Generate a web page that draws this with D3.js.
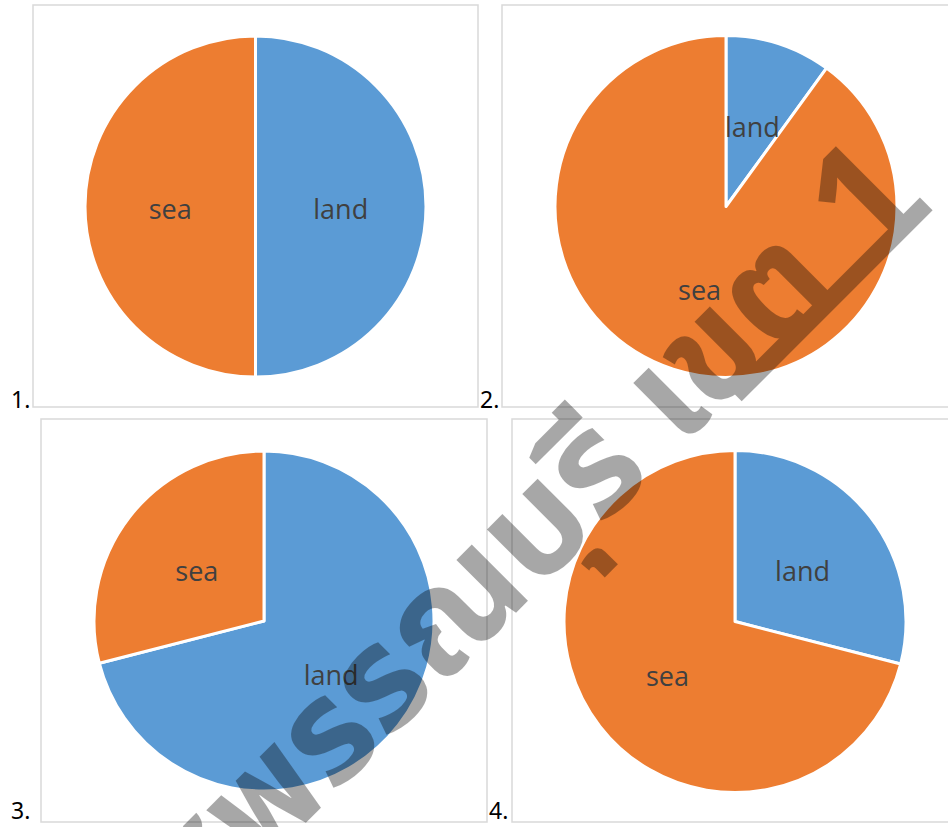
<!DOCTYPE html>
<html>
<head>
<meta charset="utf-8">
<script src="https://cdn.jsdelivr.net/npm/d3@7"></script>
<style>
  html, body { margin: 0; padding: 0; background: #fff; }
  svg { display: block; }
</style>
</head>
<body>
<script>
// --- data ---
const categories = ["land", "sea"];
const panelLabels = ["1.", "2.", "3.", "4."];
const landValues = [50, 10, 71, 29];
const seaValues = [50, 90, 29, 71];
const colors = ["#5B9BD5", "#ED7D31"];
const watermarkText = "สุพรรณบุรี เขต 1";

const width = 948, height = 827;

// panel frames (box) and pie placement
const panels = [
    { box: [33, 5, 445, 402], cx: 255.5, cy: 206.5, r: 170.5, label: [11, 408] },
    { box: [502, 5, 470, 402], cx: 726, cy: 206.5, r: 171, label: [480, 408] },
    { box: [41, 419, 446, 403], cx: 264, cy: 621, r: 170, label: [11, 819] },
    { box: [512, 419, 460, 403], cx: 735, cy: 621.5, r: 171, label: [489, 819] }
];

const svg = d3.select("body").append("svg")
    .attr("width", width)
    .attr("height", height);

const pie = d3.pie().sort(null).value(d => d.value);

panels.forEach((p, i) => {
    const data = categories.map((c, j) => ({
        name: c,
        value: j === 0 ? landValues[i] : seaValues[i],
        color: colors[j]
    }));

    svg.append("rect")
        .attr("x", p.box[0])
        .attr("y", p.box[1])
        .attr("width", p.box[2])
        .attr("height", p.box[3])
        .attr("fill", "none")
        .attr("stroke", "#D9D9D9")
        .attr("stroke-width", 1.5);

    const arc = d3.arc().innerRadius(0).outerRadius(p.r);
    const g = svg.append("g").attr("transform", `translate(${p.cx},${p.cy})`);

    g.selectAll("path")
        .data(pie(data))
        .enter()
        .append("path")
        .attr("d", arc)
        .attr("fill", d => d.data.color)
        .attr("stroke", "#fff")
        .attr("stroke-width", 3)
        .attr("stroke-linejoin", "round");

    g.selectAll("text")
        .data(pie(data))
        .enter()
        .append("text")
        .attr("x", d => arc.centroid(d)[0])
        .attr("y", d => arc.centroid(d)[1] + 12)
        .attr("text-anchor", "middle")
        .attr("font-family", "'Open Sans', 'Noto Sans', sans-serif")
        .attr("font-size", 27)
        .attr("fill", "#404040")
        .text(d => d.data.name);

    svg.append("text")
        .attr("x", p.label[0])
        .attr("y", p.label[1])
        .attr("font-family", "'Noto Sans', 'Open Sans', sans-serif")
        .attr("font-size", 23)
        .attr("fill", "#000")
        .text(panelLabels[i]);
});

// watermark on top (runs off the bottom edge, as in the source)
const wm = svg.append("g")
    .attr("transform", "translate(555,520) rotate(-45)")
    .attr("opacity", 0.34);

wm.append("text")
    .attr("x", 486)
    .attr("y", 38)
    .attr("text-anchor", "end")
    .attr("font-family", "'Noto Sans Thai', 'Noto Sans', sans-serif")
    .attr("font-weight", 700)
    .attr("font-size", 145)
    .attr("fill", "#000")
    .text(watermarkText);

wm.append("rect")
    .attr("x", 216)
    .attr("y", 30)
    .attr("width", 270)
    .attr("height", 18)
    .attr("fill", "#000");
</script>
</body>
</html>
